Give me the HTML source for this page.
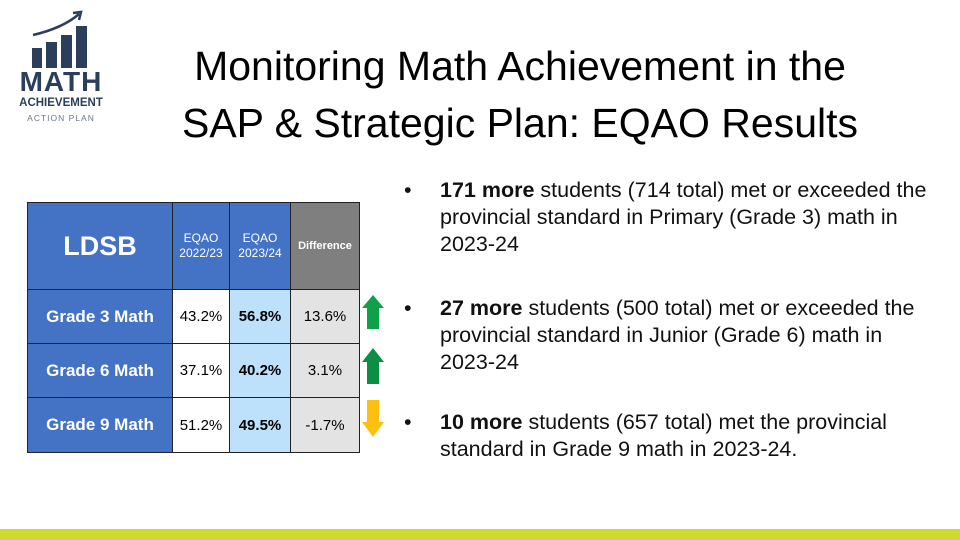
<!DOCTYPE html>
<html><head><style>
body{margin:0;width:960px;height:540px;background:#fff;position:relative;overflow:hidden;font-family:"Liberation Sans",Calibri,sans-serif;}
.a{position:absolute}
.title{left:100px;width:840px;top:38px;text-align:center;font-size:41px;line-height:57px;color:#000;white-space:nowrap}
table{position:absolute;left:27px;top:202px;border-collapse:collapse;}
td{border:1px solid #222;padding:0;text-align:center;font-size:15px;}
.h{background:#4472c4;color:#fff;font-weight:bold}
.g{font-size:17px}
.li{left:412px;width:530px;font-size:21.5px;line-height:27px;color:#111}
.li b{font-weight:bold}
.li:before{content:"•";position:absolute;left:-8px}
.li span{display:block;padding-left:28px}
</style></head><body>
<svg class="a" style="left:28px;top:8px" width="80" height="60" viewBox="0 0 80 60">
<path d="M5 27 Q35 20 51 6" stroke="#2b3f5c" stroke-width="2.5" fill="none"/>
<path d="M45 5 L53 4 L51 12" stroke="#2b3f5c" stroke-width="2.5" fill="none"/>
<rect x="4" y="40" width="10" height="20" fill="#2b3f5c"/>
<rect x="18" y="34" width="11" height="26" fill="#2b3f5c"/>
<rect x="33" y="27" width="11" height="33" fill="#2b3f5c"/>
<rect x="48" y="18" width="11" height="42" fill="#2b3f5c"/>
</svg>
<div class="a" style="left:13px;top:67px;width:96px;text-align:center;color:#2b3f5c;font-weight:bold;font-size:28px;line-height:30px;letter-spacing:1px">MATH</div>
<div class="a" style="left:13px;top:97px;width:96px;text-align:center;color:#2b3f5c;font-weight:bold;font-size:11.5px">ACHIEVEMENT</div>
<div class="a" style="left:13px;top:113px;width:96px;text-align:center;color:#6b7684;font-size:8.5px;letter-spacing:1px">ACTION PLAN</div>
<div class="a title">Monitoring Math Achievement in the<br>SAP &amp; Strategic Plan: EQAO Results</div>
<table>
<tr style="height:87px"><td class="h" style="width:144px;font-size:27px">LDSB</td><td class="h" style="width:56px;font-weight:normal;font-size:12px;line-height:15px">EQAO<br>2022/23</td><td class="h" style="width:60px;font-weight:normal;font-size:12px;line-height:15px">EQAO<br>2023/24</td><td style="width:68px;background:#7f7f7f;color:#fff;font-weight:bold;font-size:11px">Difference</td></tr>
<tr style="height:54px"><td class="h g">Grade 3 Math</td><td>43.2%</td><td style="background:#bde1fb"><b>56.8%</b></td><td style="background:#e3e3e3">13.6%</td></tr>
<tr style="height:54px"><td class="h g">Grade 6 Math</td><td>37.1%</td><td style="background:#bde1fb"><b>40.2%</b></td><td style="background:#e3e3e3">3.1%</td></tr>
<tr style="height:55px"><td class="h g">Grade 9 Math</td><td>51.2%</td><td style="background:#bde1fb"><b>49.5%</b></td><td style="background:#e3e3e3">-1.7%</td></tr>
</table>
<svg class="a" style="left:360px;top:292px" width="26" height="150">
<path d="M7 37 V16 H2 L13 3 L24 16 H19 V37Z" fill="#0fa14a"/>
<path d="M7 92 V70 H2 L13 56 L24 70 H19 V92Z" fill="#0a8f45"/>
<path d="M7 108 V130 H2 L13 145 L24 130 H19 V108Z" fill="#fdbf10"/>
</svg>
<div class="a li" style="top:177px"><span><b>171 more</b> students (714 total) met or exceeded the provincial standard in Primary (Grade 3) math in 2023-24</span></div>
<div class="a li" style="top:295px"><span><b>27 more</b> students (500 total) met or exceeded the provincial standard in Junior (Grade 6) math in 2023-24</span></div>
<div class="a li" style="top:409px"><span><b>10 more</b> students (657 total) met the provincial standard in Grade 9 math in 2023-24.</span></div>
<div class="a" style="left:0;top:529px;width:960px;height:11px;background:#cddc2c"></div>
</body></html>
